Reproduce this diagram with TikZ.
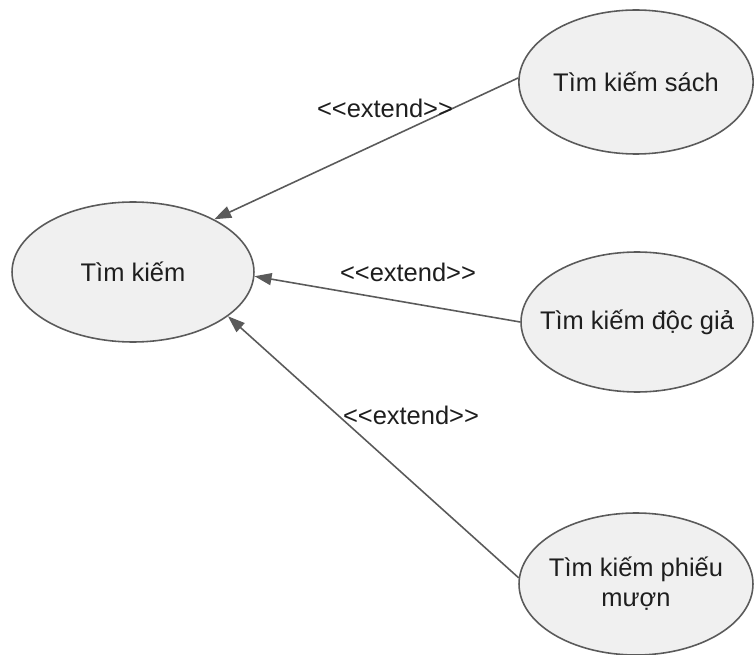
\documentclass[tikz,border=0pt]{standalone}
\usepackage{fontspec}
\setmainfont{Liberation Sans}
\usetikzlibrary{arrows.meta,shapes.geometric}
\definecolor{ucfill}{RGB}{240,240,240}
\definecolor{ucline}{RGB}{90,90,90}
\definecolor{uctext}{RGB}{30,30,30}
\tikzset{
  usecase/.style={ellipse, draw=ucline, line width=0.9pt, fill=ucfill, inner sep=0pt,
    text=uctext, font=\fontsize{14.5}{17}\selectfont, align=center},
  extendarrow/.style={draw=ucline, line width=0.9pt, -{Triangle[length=0.34cm, width=0.24cm]}},
  stereo/.style={text=uctext, font=\fontsize{14.5}{17}\selectfont}
}
\begin{document}
\begin{tikzpicture}[x=0.02cm, y=-0.02cm]
        \useasboundingbox (0,0) rectangle (754,655);
        \node[usecase, minimum width=4.84cm, minimum height=2.8cm] (timkiem) at (133, 272) {Tìm kiếm};
        \node[usecase, minimum width=4.68cm, minimum height=2.88cm] (sach) at (636, 82) {Tìm kiếm sách};
        \node[usecase, minimum width=4.64cm, minimum height=2.8cm, inner xsep=-0.3cm] (docgia) at (637, 322) {Tìm kiếm độc giả};
        \node[usecase, minimum width=4.68cm, minimum height=2.84cm, inner xsep=-0.1cm] (phieu) at (636, 584) {Tìm kiếm phiếu\\mượn};
        \path[extendarrow] (sach.178) -- (timkiem.33);
        \path[extendarrow] (docgia.180) -- (timkiem.-2);
        \path[extendarrow] (phieu.177) -- (timkiem.-25);
        \node[stereo] (ext1) at (385, 108) {{<}{<}extend{>}{>}};
        \node[stereo] (ext2) at (408, 272) {{<}{<}extend{>}{>}};
        \node[stereo] (ext3) at (411, 415) {{<}{<}extend{>}{>}};
      \end{tikzpicture}
\end{document}
